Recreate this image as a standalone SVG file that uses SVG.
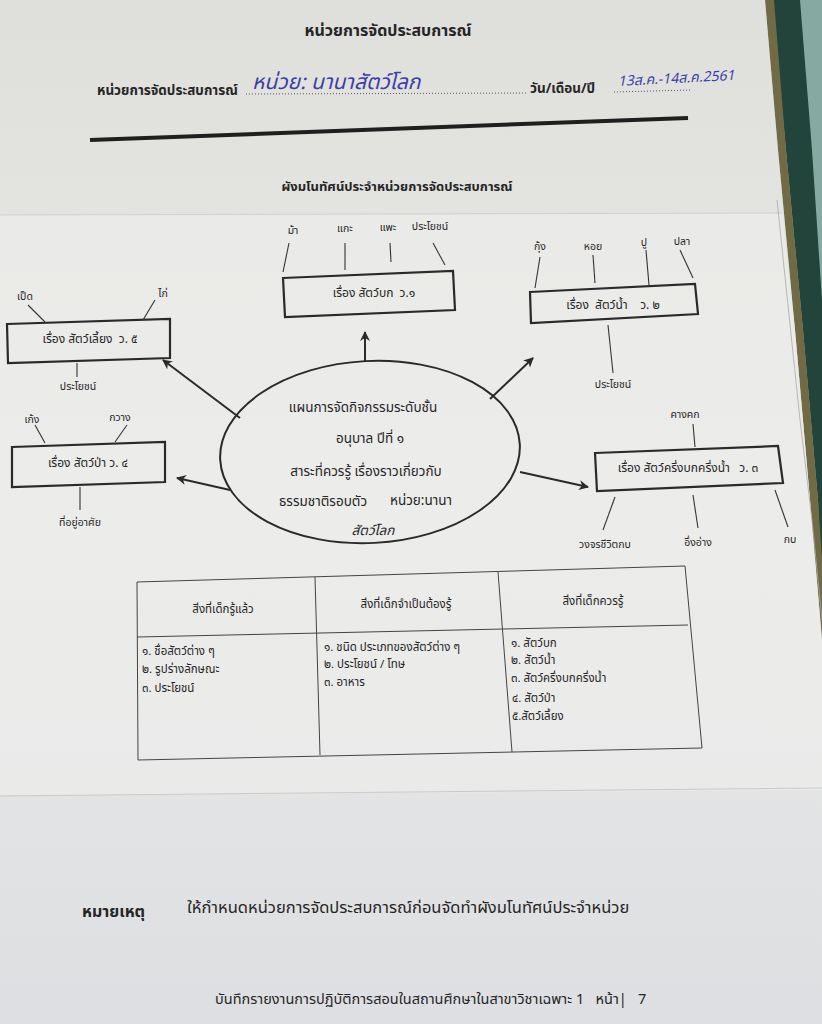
<svg xmlns="http://www.w3.org/2000/svg" width="822" height="1024" viewBox="0 0 822 1024">
<style>
  text { font-family: "Noto Sans Thai", "Noto Sans Thai UI", "Loma", "Garuda", "Norasi", "Noto Sans", "DejaVu Sans", sans-serif; fill: #262626; }
  .b { font-weight: bold; }
  .lbl { font-size: 10.5px; text-anchor: middle; }
  .box { fill: none; stroke: #2a2a2a; stroke-width: 2.2; }
  .ln { stroke: #333; stroke-width: 1.1; fill: none; }
  .arr { stroke: #2a2a2a; stroke-width: 2; fill: none; marker-end: url(#ah); }
  .bt { font-size: 12px; text-anchor: middle; }
  .et { font-size: 13.5px; }
  .tb { stroke: #444; stroke-width: 1; fill: none; }
  .tt { font-size: 11.5px; }
  .hand { fill: #3b3fa6; font-style: italic; }
</style>
<defs>
  <marker id="ah" viewBox="0 0 10 10" refX="9" refY="5" markerWidth="5" markerHeight="5" orient="auto">
    <path d="M0,0 L10,5 L0,10 L3,5 z" fill="#2a2a2a"/>
  </marker>
  <linearGradient id="paper" x1="0" y1="0" x2="0" y2="1">
    <stop offset="0" stop-color="#dfdfdc"/>
    <stop offset="0.5" stop-color="#e9e9e7"/>
    <stop offset="1" stop-color="#dedfe2"/>
  </linearGradient>
</defs>

<!-- background -->
<rect x="0" y="0" width="822" height="1024" fill="#86aaa2"/>
<polygon points="772,0 800,0 812,150 822,300 822,600 818,500 803,330 786,150" fill="#22443a"/>
<polygon points="765,0 774,0 786,150 803,330 818,500 822,560 822,640 810,500 795,330 778,150" fill="#726a45"/>
<polygon points="0,0 765,0 778,150 795,330 810,500 822,640 822,1024 0,1024" fill="url(#paper)"/>
<polygon points="0,215 782,213 795,330 810,500 822,640 822,790 0,796" fill="#eeeeec" opacity="0.6"/>
<line x1="0" y1="215" x2="782" y2="213" stroke="#cfcfcd" stroke-width="1"/>
<line x1="0" y1="796" x2="822" y2="788" stroke="#c8c9cb" stroke-width="1"/>
<polyline points="777,200 800,420 812,520 822,620" fill="none" stroke="#a9aaa8" stroke-width="0.8"/>

<!-- header -->
<g id="header">
  <text x="388" y="36" class="b" font-size="16" text-anchor="middle">หน่วยการจัดประสบการณ์</text>
  <text x="97" y="95" class="b" font-size="13.5">หน่วยการจัดประสบการณ์</text>
  <line x1="246" y1="94" x2="528" y2="93" stroke="#555" stroke-width="1" stroke-dasharray="1,2"/>
  <text x="252" y="89" class="hand" font-size="21">หน่วย: นานาสัตว์โลก</text>
  <text x="530" y="93" class="b" font-size="13.5">วัน/เดือน/ปี</text>
  <line x1="614" y1="92" x2="692" y2="90" stroke="#555" stroke-width="1" stroke-dasharray="1,2"/>
  <text x="618" y="86" class="hand" font-size="14" transform="rotate(-3 618 86)">13ส.ค.-14ส.ค.2561</text>
  <line x1="90" y1="140" x2="688" y2="118" stroke="#1f1f1f" stroke-width="4"/>
  <text x="397" y="191" class="b" font-size="13" text-anchor="middle">ผังมโนทัศน์ประจำหน่วยการจัดประสบการณ์</text>
</g>

<!-- center ellipse -->
<g id="center">
  <ellipse cx="370" cy="452" rx="150" ry="91" transform="rotate(-3 370 452)" fill="none" stroke="#2a2a2a" stroke-width="2"/>
  <text x="363" y="412" class="et" text-anchor="middle">แผนการจัดกิจกรรมระดับชั้น</text>
  <text x="370" y="443" class="et" text-anchor="middle">อนุบาล ปีที่ ๑</text>
  <text x="366" y="476" class="et" text-anchor="middle">สาระที่ควรรู้ เรื่องราวเกี่ยวกับ</text>
  <text x="279" y="506" class="et">ธรรมชาติรอบตัว</text>
  <text x="390" y="505" class="et">หน่วย:นานา</text>
  <text x="373" y="535" class="et" font-size="15" text-anchor="middle" font-style="italic">สัตว์โลก</text>
</g>

<!-- connectors -->
<g id="connectors">
  <line x1="365" y1="362" x2="365" y2="332" class="arr"/>
  <line x1="240" y1="418" x2="163" y2="360" class="arr"/>
  <line x1="490" y1="399" x2="533" y2="358" class="arr"/>
  <line x1="230" y1="490" x2="177" y2="478" class="arr"/>
  <line x1="520" y1="472" x2="588" y2="487" class="arr"/>
</g>

<!-- node 1: land animals -->
<g id="node-land">
  <polygon points="283,278 453,271 455,310 285,317" class="box"/>
  <text x="374" y="297" class="bt" xml:space="preserve">เรื่อง สัตว์บก  ว.๑</text>
  <line x1="289" y1="243" x2="283" y2="272" class="ln"/>
  <line x1="345" y1="243" x2="345" y2="270" class="ln"/>
  <line x1="390" y1="243" x2="391" y2="262" class="ln"/>
  <line x1="433" y1="243" x2="445" y2="265" class="ln"/>
  <text x="293" y="234" class="lbl">ม้า</text>
  <text x="345" y="232" class="lbl">แกะ</text>
  <text x="388" y="231" class="lbl">แพะ</text>
  <text x="430" y="230" class="lbl">ประโยชน์</text>
</g>

<!-- node 2: water animals -->
<g id="node-water">
  <polygon points="530,292 695,284 698,314 531,323" class="box"/>
  <text x="613" y="309" class="bt" xml:space="preserve">เรื่อง  สัตว์น้ำ    ว. ๒</text>
  <line x1="540" y1="257" x2="535" y2="288" class="ln"/>
  <line x1="593" y1="255" x2="595" y2="283" class="ln"/>
  <line x1="646" y1="250" x2="649" y2="285" class="ln"/>
  <line x1="680" y1="250" x2="693" y2="278" class="ln"/>
  <line x1="608" y1="325" x2="613" y2="373" class="ln"/>
  <text x="540" y="250" class="lbl">กุ้ง</text>
  <text x="593" y="250" class="lbl">หอย</text>
  <text x="644" y="246" class="lbl">ปู</text>
  <text x="682" y="245" class="lbl">ปลา</text>
  <text x="613" y="388" class="lbl">ประโยชน์</text>
</g>

<!-- node 3: amphibians -->
<g id="node-amphibian">
  <polygon points="595,453 778,446 783,483 597,491" class="box"/>
  <text x="688" y="472" class="bt" xml:space="preserve">เรื่อง สัตว์ครึ่งบกครึ่งน้ำ   ว. ๓</text>
  <line x1="693" y1="424" x2="695" y2="447" class="ln"/>
  <line x1="615" y1="497" x2="603" y2="530" class="ln"/>
  <line x1="693" y1="495" x2="698" y2="528" class="ln"/>
  <line x1="775" y1="490" x2="788" y2="527" class="ln"/>
  <text x="685" y="418" class="lbl">คางคก</text>
  <text x="605" y="548" class="lbl">วงจรชีวิตกบ</text>
  <text x="698" y="546" class="lbl">อึ่งอ่าง</text>
  <text x="790" y="543" class="lbl">กบ</text>
</g>

<!-- node 4: wild animals -->
<g id="node-wild">
  <polygon points="12,447 165,442 165,482 12,487" class="box"/>
  <text x="88" y="467" class="bt">เรื่อง สัตว์ป่า ว. ๔</text>
  <line x1="35" y1="425" x2="45" y2="443" class="ln"/>
  <line x1="127" y1="425" x2="115" y2="442" class="ln"/>
  <line x1="80" y1="487" x2="80" y2="510" class="ln"/>
  <text x="32" y="423" class="lbl">เก้ง</text>
  <text x="120" y="421" class="lbl">กวาง</text>
  <text x="80" y="526" class="lbl">ที่อยู่อาศัย</text>
</g>

<!-- node 5: pets -->
<g id="node-pets">
  <polygon points="7,324 170,319 170,358 8,363" class="box"/>
  <text x="90" y="343" class="bt" xml:space="preserve">เรื่อง สัตว์เลี้ยง  ว. ๕</text>
  <line x1="28" y1="305" x2="45" y2="322" class="ln"/>
  <line x1="155" y1="300" x2="143" y2="320" class="ln"/>
  <line x1="77" y1="363" x2="77" y2="377" class="ln"/>
  <text x="25" y="300" class="lbl">เป็ด</text>
  <text x="163" y="297" class="lbl">ไก่</text>
  <text x="78" y="390" class="lbl">ประโยชน์</text>
</g>

<!-- table -->
<g id="table">
  <polygon points="137,582 685,566 702,748 138,760" class="tb"/>
  <line x1="137" y1="637" x2="688" y2="625" class="tb"/>
  <line x1="315" y1="577" x2="320" y2="755" class="tb"/>
  <line x1="498" y1="572" x2="512" y2="752" class="tb"/>
  <text x="223" y="613" class="tt" text-anchor="middle">สิ่งที่เด็กรู้แล้ว</text>
  <text x="406" y="608" class="tt" text-anchor="middle">สิ่งที่เด็กจำเป็นต้องรู้</text>
  <text x="593" y="605" class="tt" text-anchor="middle">สิ่งที่เด็กควรรู้</text>
  <text x="142" y="655" class="tt">๑. ชื่อสัตว์ต่าง ๆ</text>
  <text x="142" y="673" class="tt">๒. รูปร่างลักษณะ</text>
  <text x="142" y="692" class="tt">๓. ประโยชน์</text>
  <text x="324" y="651" class="tt">๑. ชนิด ประเภทของสัตว์ต่าง ๆ</text>
  <text x="324" y="668" class="tt">๒. ประโยชน์ / โทษ</text>
  <text x="324" y="686" class="tt">๓. อาหาร</text>
  <text x="511" y="647" class="tt">๑. สัตว์บก</text>
  <text x="511" y="664" class="tt">๒. สัตว์น้ำ</text>
  <text x="511" y="682" class="tt">๓. สัตว์ครึ่งบกครึ่งน้ำ</text>
  <text x="512" y="702" class="tt">๔. สัตว์ป่า</text>
  <text x="512" y="720" class="tt">๕.สัตว์เลี้ยง</text>
</g>

<!-- footer -->
<g id="footer">
  <text x="82" y="917" class="b" font-size="16">หมายเหตุ</text>
  <text x="187" y="913" font-size="16.5">ให้กำหนดหน่วยการจัดประสบการณ์ก่อนจัดทำผังมโนทัศน์ประจำหน่วย</text>
  <text x="215" y="1004" font-size="14.5" xml:space="preserve">บันทึกรายงานการปฏิบัติการสอนในสถานศึกษาในสาขาวิชาเฉพาะ 1   หน้า|   7</text>
</g>
</svg>
